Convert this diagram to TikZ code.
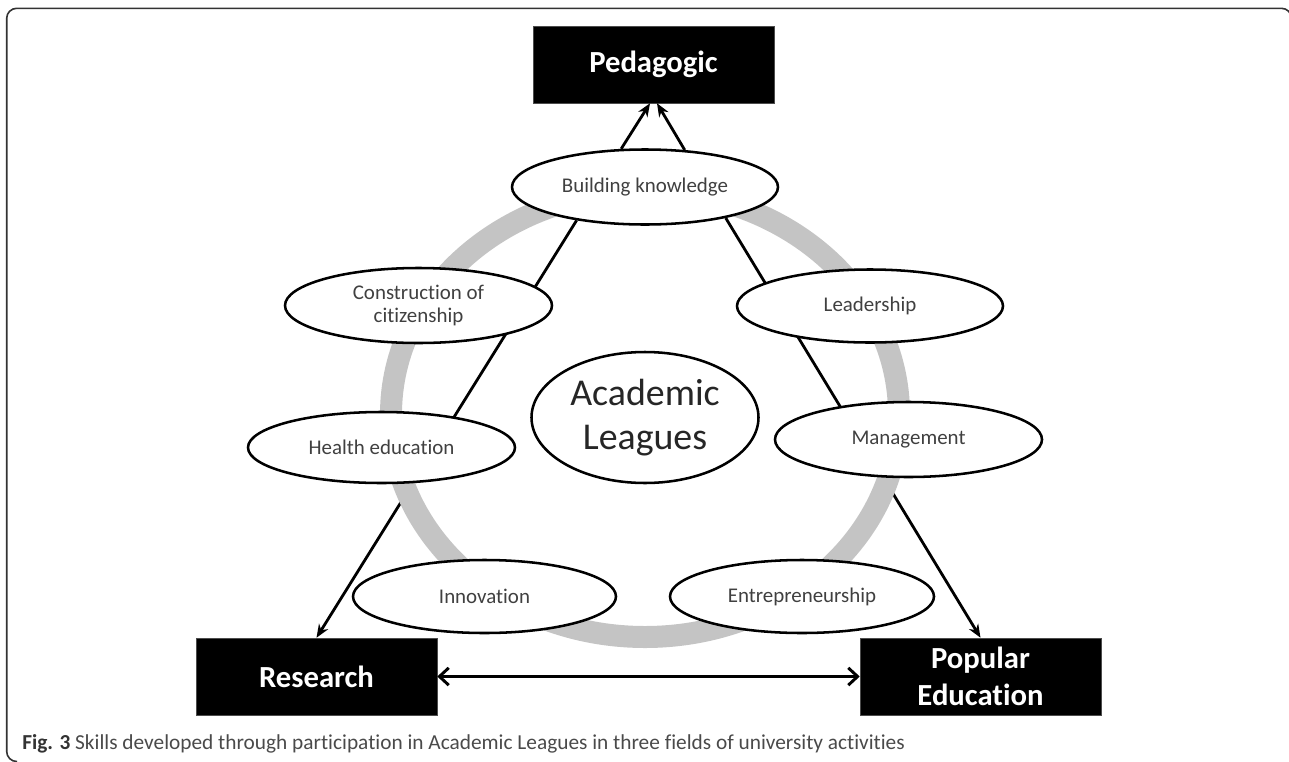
\documentclass[tikz,border=0pt]{standalone}
\usepackage{fontspec}
\setmainfont{Carlito}[Ligatures=NoCommon]
\usetikzlibrary{shapes.geometric,arrows.meta,calc}
\definecolor{ringgray}{HTML}{C4C4C4}
\definecolor{skilltext}{HTML}{404040}
\definecolor{captext}{HTML}{4A4A4A}
\definecolor{capbold}{HTML}{333333}
\pgfdeclarelayer{linklayer}
\pgfdeclarelayer{ringlayer}
\pgfsetlayers{linklayer,ringlayer,main}
\begin{document}
\begin{tikzpicture}[x=0.75pt,y=-0.75pt,
  skill/.style={ellipse,draw=black,line width=1.9pt,fill=white,inner sep=0pt,
    text=skilltext,font=\fontsize{15.7}{17}\selectfont,align=center},
  field/.style={rectangle,fill=black,draw=black!70,line width=0.4pt,text=white,
    inner sep=0pt,minimum width=180.75pt,minimum height=57.75pt,
    font=\fontsize{23}{28}\selectfont\bfseries,align=center},
  link/.style={line width=2.1pt,-{Stealth[length=10pt,width=8pt]}},
  both/.style={line width=2.2pt,{Straight Barb[length=7pt,width=13pt]}-{Straight Barb[length=7pt,width=13pt]}},
]
\useasboundingbox (0,0) rectangle (1289,761);
\begin{scope}
  \clip (0,0) rectangle (1289,761);
  \draw[line width=1.2pt,black!80,rounded corners=7.5pt]
    (17,761.5) -- (6.7,761.5) -- (6.7,8.3) -- (1291.5,8.3) -- (1291.5,40);
\end{scope}

% field boxes
\node[field] (ped) at (653.5,64.5) {Pedagogic};
\node[field] (res) at (316.5,676.5) {Research};
\node[field] (pop) at (980.5,676.5) {Popular\\Education};

% skills
\node[skill,minimum width=199.5pt,minimum height=56.25pt] (bk) at (645,187) {Building knowledge};
\node[skill,minimum width=200.25pt,minimum height=56.25pt] (cc) at (418.5,305.5) {Construction of\\citizenship};
\node[skill,minimum width=200.25pt,minimum height=53.25pt] (he) at (381.5,447.5) {Health education};
\node[skill,minimum width=199.5pt,minimum height=54.75pt] (le) at (870,306) {Leadership};
\node[skill,minimum width=200.25pt,minimum height=56.25pt] (ma) at (908.5,439.5) {Management};
\node[skill,minimum width=197.25pt,minimum height=54.75pt] (in) at (484.5,596.5) {Innovation};
\node[skill,minimum width=198pt,minimum height=54.75pt] (en) at (802,596.5) {Entrepreneurship};
\node[skill,minimum width=170.25pt,minimum height=98.25pt,text=black!85,
  font=\fontsize{28.4}{32.5}\selectfont] (al) at (645,417.5) {Academic\\Leagues};

% ring
\begin{pgfonlayer}{ringlayer}
  \draw[ringgray,line width=16.5pt] (645,414) ellipse [x radius=190.5pt, y radius=167.25pt];
\end{pgfonlayer}

% long connectors (behind ring and ellipses)
\begin{pgfonlayer}{linklayer}
  \draw[link] (bk.206) -- (res.north);
  \draw[link] (bk.339) -- (pop.north);
\end{pgfonlayer}

% connectors to Pedagogic
\draw[link] (bk.122) -- ($(ped.south)+(-3.5,0)$);
\draw[link] (bk.43) -- ($(ped.south)+(3.5,0)$);

% Research <-> Popular Education
\draw[both] (res.east) -- (pop.west);

% caption
\node[anchor=base west,inner sep=0pt,text=captext,font=\fontsize{16}{18}\selectfont] (cap) at (22,749)
  {\textbf{\textcolor{capbold}{Fig. 3}} Skills developed through participation in Academic Leagues in three fields of university activities};
\end{tikzpicture}
\end{document}
